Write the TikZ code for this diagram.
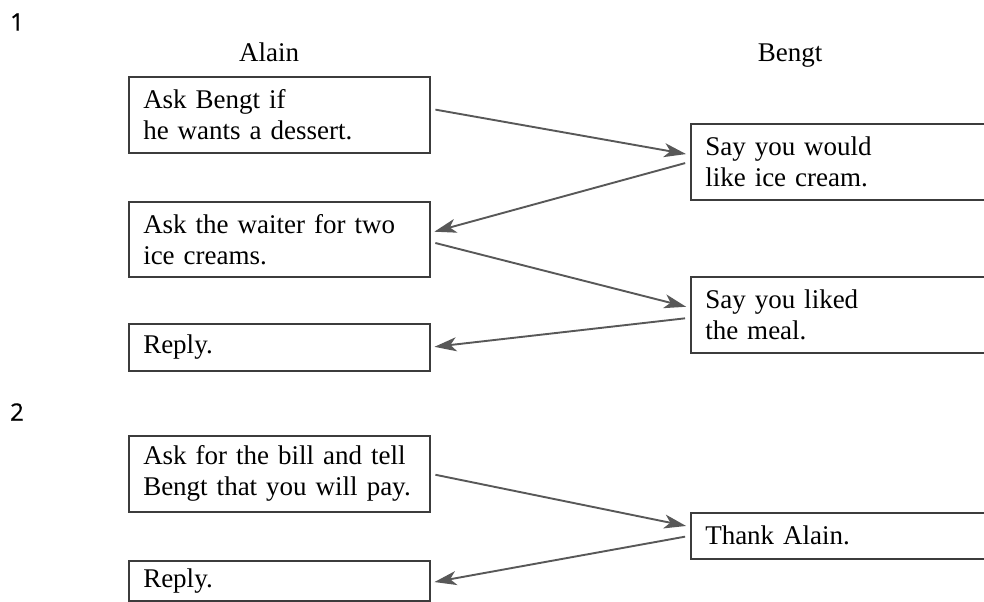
\documentclass[tikz,border=0pt]{standalone}
\usepackage{fontspec}
\setmainfont{Liberation Serif}
\newfontfamily\numfont[FakeBold=0.6]{Open Sans}
\usetikzlibrary{arrows.meta}

\definecolor{boxgray}{HTML}{3C3C3C}
\definecolor{arrowgray}{HTML}{585858}

\tikzset{
  msg/.style={draw=boxgray, line width=0.75pt, anchor=north west, align=left,
    inner xsep=7.25pt, inner ysep=0pt, font=\fontsize{13.5}{15.5}\selectfont},
  alainbox/.style={msg, text width=136pt},
  bengtbox/.style={msg, text width=145.5pt},
  turn/.style={draw=arrowgray, line width=0.95pt, shorten <=2.5pt, shorten >=2pt,
    -{Stealth[length=11pt, width=7pt, inset=3pt]}},
  who/.style={anchor=base, font=\fontsize{13.5}{15.5}\selectfont},
  part/.style={font=\numfont\fontsize{12}{14}\selectfont}
}

\begin{document}
\begin{tikzpicture}[x=0.5pt, y=-0.5pt]
  \useasboundingbox (0,0) rectangle (984,601);
  \clip (0,0) rectangle (984,601);

  \node[part] (p1) at (17,22) {1};
  \node[who] (alain) at (269,61) {Alain};
  \node[who] (bengt) at (790,61) {Bengt};

  % first dialogue
  \node[alainbox, minimum height=38pt] (a1) at (128,76) {Ask Bengt if\\he wants a dessert.};
  \node[alainbox, minimum height=37.5pt] (a2) at (128,201) {Ask the waiter for two\\ice creams.};
  \node[alainbox, minimum height=23.5pt] (a3) at (128,323) {Reply.};
  \node[bengtbox, minimum height=38pt] (b1) at (690,123) {Say you would\\like ice cream.};
  \node[bengtbox, minimum height=38pt] (b2) at (690,276) {Say you liked\\the meal.};

  \draw[turn] ([yshift=3pt]a1.east) -- ([yshift=3.5pt]b1.west);
  \draw[turn] (b1.west) -- ([yshift=3.25pt]a2.east);
  \draw[turn] ([yshift=-1.25pt]a2.east) -- ([yshift=3.5pt]b2.west);
  \draw[turn] ([yshift=-1.5pt]b2.west) -- (a3.east);

  % second dialogue
  \node[part] (p2) at (17,412) {2};
  \node[alainbox, minimum height=38pt] (a4) at (128,435) {Ask for the bill and tell\\Bengt that you will pay.};
  \node[alainbox, minimum height=20pt] (a5) at (128,560) {Reply.};
  \node[bengtbox, minimum height=23pt] (b3) at (690,512) {Thank Alain.};

  \draw[turn] (a4.east) -- ([yshift=4.5pt]b3.west);
  \draw[turn] (b3.west) -- ([yshift=-1pt]a5.east);
\end{tikzpicture}
\end{document}
